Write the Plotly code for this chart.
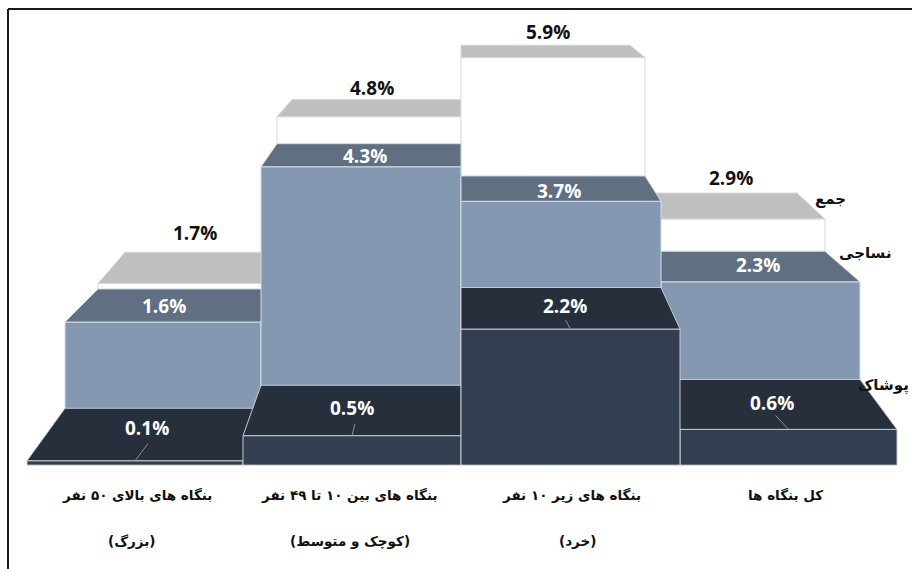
import plotly.graph_objects as go

# ---- data ----
CATEGORIES_LINE1 = ["بنگاه های بالای ۵۰ نفر", "بنگاه های بین ۱۰ تا ۴۹ نفر", "بنگاه های زیر ۱۰ نفر", "کل بنگاه ها"]
CATEGORIES_LINE2 = ["(بزرگ)", "(کوچک و متوسط)", "(خرد)", ""]
SERIES_NAMES = ["پوشاک", "نساجی", "جمع"]
POOSHAK = [0.1, 0.5, 2.2, 0.6]
NASAJI = [1.6, 4.3, 3.7, 2.3]
JAM = [1.7, 4.8, 5.9, 2.9]

# ---- 3-D projection of the chart box onto the page (one entry per depth plane) ----
PLANE_EDGES = [[27, 243, 461, 680, 897], [65, 261, 461, 661, 860],
               [98, 277, 461, 645, 825], [125, 292, 461, 630, 797]]
PLANE_ZERO = [467, 414, 375, 336]
PLANE_SCALE = [62.7, 57.5, 53.8, 49.3]
FLOOR = 0.03


def px(cat_pos, depth):
    edges = PLANE_EDGES[depth]
    i = min(int(cat_pos), 3)
    return edges[i] + (cat_pos - i) * (edges[i + 1] - edges[i])


def py(value, depth):
    return PLANE_ZERO[depth] - PLANE_SCALE[depth] * value


FRONT = ["#333E50", "#8498B2", "#FFFFFF"]
TOP = ["#262F3B", "#616F82", "#BFBFBF"]
EDGE = ["#C4CAD3", "#D5DCE6", "#DADADA"]
LABEL = ["white", "white", "#111111"]

fig = go.Figure()


def poly(xs, ys, fill, edge):
    fig.add_trace(go.Scatter(x=xs + xs[:1], y=ys + ys[:1], mode="lines", fill="toself",
                             fillcolor=fill, line=dict(color=edge, width=1),
                             hoverinfo="skip", showlegend=False))


ROWS = [POOSHAK, NASAJI, JAM]
for row in (2, 1, 0):
    for cat in (0, 3, 1, 2):
        v = ROWS[row][cat]
        xl, xr = px(cat, row), px(cat + 1, row)
        xl2, xr2 = px(cat, row + 1), px(cat + 1, row + 1)
        poly([xl, xr, xr, xl], [py(FLOOR, row), py(FLOOR, row), py(v, row), py(v, row)], FRONT[row], EDGE[row])
        poly([xl, xr, xr2, xl2], [py(v, row), py(v, row), py(v, row + 1), py(v, row + 1)], TOP[row], EDGE[row])

# ---- value labels: anchored on each bar's top face ----
LABEL_DEPTH_T = [0.35, 0.15, 0.5]
LABEL_SHIFT = [[(2, -6), (-3, -2), (-2, -2), (-7, -1)],
               [(-3, 1), (3, 1), (-1, 2), (1, -2)],
               [(-3, -19), (-1, -11), (-1, -13), (7, -15)]]
for row in range(3):
    for cat in range(4):
        v = ROWS[row][cat]
        t = LABEL_DEPTH_T[row]
        x0, x1 = px(cat + .5, row), px(cat + .5, row + 1)
        if row == 2:
            ax, ay = x0 + t * (x1 - x0), py(v, 3)
        else:
            ax, ay = x0 + t * (x1 - x0), (py(v, row) + py(v, row + 1)) / 2
        fig.add_annotation(x=ax, y=ay, text=f"<b>{v:.1f}%</b>", showarrow=False,
                           xshift=LABEL_SHIFT[row][cat][0], yshift=-LABEL_SHIFT[row][cat][1],
                           font=dict(family="Open Sans, DejaVu Sans", size=19, color=LABEL[row]))

# ---- leader lines of the front series ----
LEADER_OFFSET = [(13, -17), (3, -12), (-5, -9), (-13, -14)]
for cat, v in enumerate(POOSHAK):
    xe = px(cat + .5, 0)
    ye = py(v, 0)
    dx, dy = LEADER_OFFSET[cat]
    fig.add_trace(go.Scatter(x=[xe + dx, xe], y=[ye + dy, ye], mode="lines",
                             line=dict(color="#8C9198", width=1), hoverinfo="skip", showlegend=False))

# ---- category labels ----
LINE1_SHIFT = [2, -3, 1, -3]
LINE2_SHIFT = [-4, -2, 7, 0]
for cat in range(4):
    x = px(cat + .5, 0)
    fig.add_annotation(x=x + LINE1_SHIFT[cat], y=495, text=f"<b>{CATEGORIES_LINE1[cat]}</b>", showarrow=False,
                       font=dict(family="DejaVu Sans", size=13.5, color="#111111"))
    if CATEGORIES_LINE2[cat]:
        fig.add_annotation(x=x + LINE2_SHIFT[cat], y=541, text=f"<b>{CATEGORIES_LINE2[cat]}</b>", showarrow=False,
                           font=dict(family="DejaVu Sans", size=13.5, color="#111111"))

# ---- series names at the right ----
for name, lx, ly in zip(SERIES_NAMES, (911, 894, 848), (385, 253, 199)):
    fig.add_annotation(x=lx, y=ly, text=f"<b>{name}</b>", showarrow=False, xanchor="right",
                       font=dict(family="DejaVu Sans", size=15, color="#111111"))

# frame (left and top only, as in the picture)
fig.add_shape(type="line", x0=8, x1=8, y0=9, y1=569, line=dict(color="#1A1A1A", width=2))
fig.add_shape(type="line", x0=8, x1=912, y0=9, y1=9, line=dict(color="#1A1A1A", width=2))

fig.update_layout(width=912, height=569, margin=dict(l=0, r=0, t=0, b=0),
                  paper_bgcolor="white", plot_bgcolor="white", showlegend=False,
                  xaxis=dict(range=[0, 912], visible=False, fixedrange=True),
                  yaxis=dict(range=[569, 0], visible=False, fixedrange=True))
fig.write_html("out.html", config={"displayModeBar": False},
               post_script="document.body.style.margin='0';document.body.style.overflow='hidden';")
